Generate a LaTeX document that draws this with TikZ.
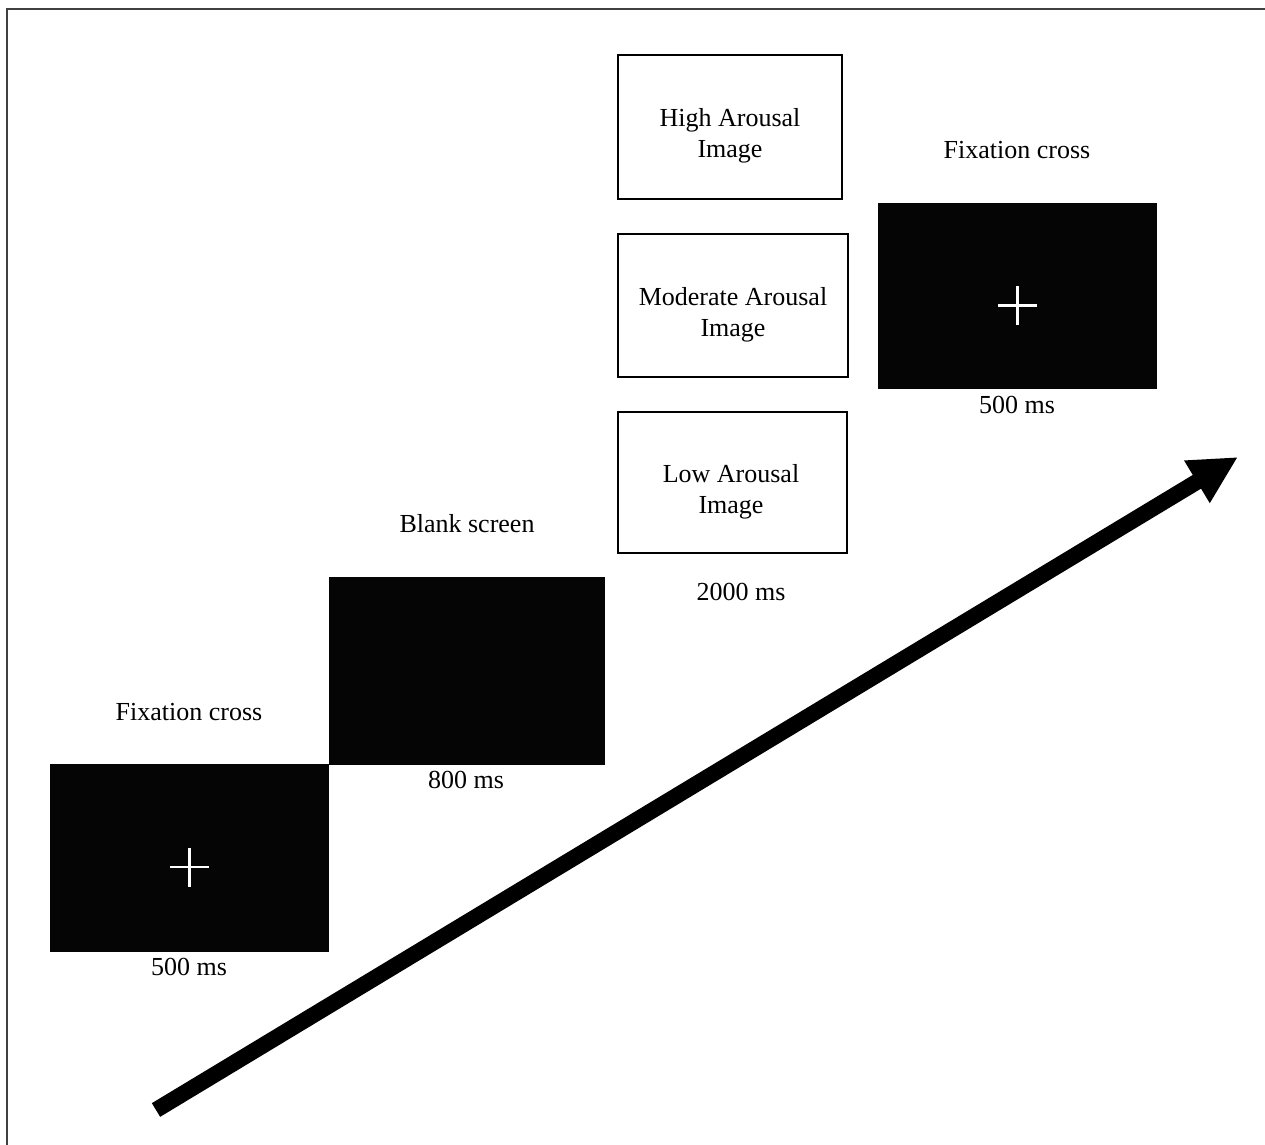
\documentclass[tikz,border=0pt]{standalone}
\usepackage{fontspec}
\setmainfont{Liberation Serif}
\usetikzlibrary{arrows.meta}

\begin{document}
\begin{tikzpicture}[x=0.5pt, y=-0.5pt, font=\fontsize{13}{15.5}\selectfont,
    screen/.style={rectangle, fill=black!98, inner sep=0pt},
    picbox/.style={rectangle, draw=black, line width=1pt, inner sep=0pt},
    cross/.style={draw=white, line width=1.2pt}]
            \useasboundingbox (0,0) rectangle (1265,1145);
            \draw[black!75, line width=1pt] (1265,9) -- (7,9) -- (7,1145);
            \begin{scope}
            \node[screen, minimum width=139.5pt, minimum height=94pt] (fx1) at (189.5,857.5) {};
            \node[screen, minimum width=138pt, minimum height=94pt] (blank) at (467,671) {};
            \node[screen, minimum width=139.5pt, minimum height=93pt] (fx2) at (1017.5,296) {};
            \end{scope}
            \begin{scope}[every node/.style={picbox, minimum width=112pt, minimum height=72pt}]
            \node (high) at (730,127.5) {};
            \node[minimum width=115pt, minimum height=71pt] (mod) at (732.5,305.5) {};
            \node[minimum width=114.5pt, minimum height=70.5pt] (low) at (732,482) {};
            \end{scope}
            \begin{scope}[every node/.style={align=center}]
            \node (thigh) at (730,136) {High Arousal\\Image};
            \node (tmod) at (733,315) {Moderate Arousal\\Image};
            \node (tlow) at (731,492) {Low Arousal\\Image};
            \end{scope}
            \draw[cross] (fx1.center) ++(0,9.5) +(-19.5,0) -- +(19.5,0) +(0,-19.5) -- +(0,19.5);
            \draw[cross] (fx2.center) ++(0,9.5) +(-19.5,0) -- +(19.5,0) +(0,-19.5) -- +(0,19.5);
            \node (t1) at (189,712) {Fixation cross};
            \node (d1) at (189,967) {500 ms};
            \node (t2) at (467,524) {Blank screen};
            \node (d2) at (466,780) {800 ms};
            \node (d3) at (741,592) {2000 ms};
            \node (t4) at (1017,150) {Fixation cross};
            \node (d4) at (1017,405) {500 ms};
            \coordinate (tail) at (156,1110);
            \coordinate (head) at (1238,457);
            \draw[line width=8pt, -{Triangle[length=24pt, width=23pt]}] (tail) -- (head);
            \end{tikzpicture}
\end{document}
